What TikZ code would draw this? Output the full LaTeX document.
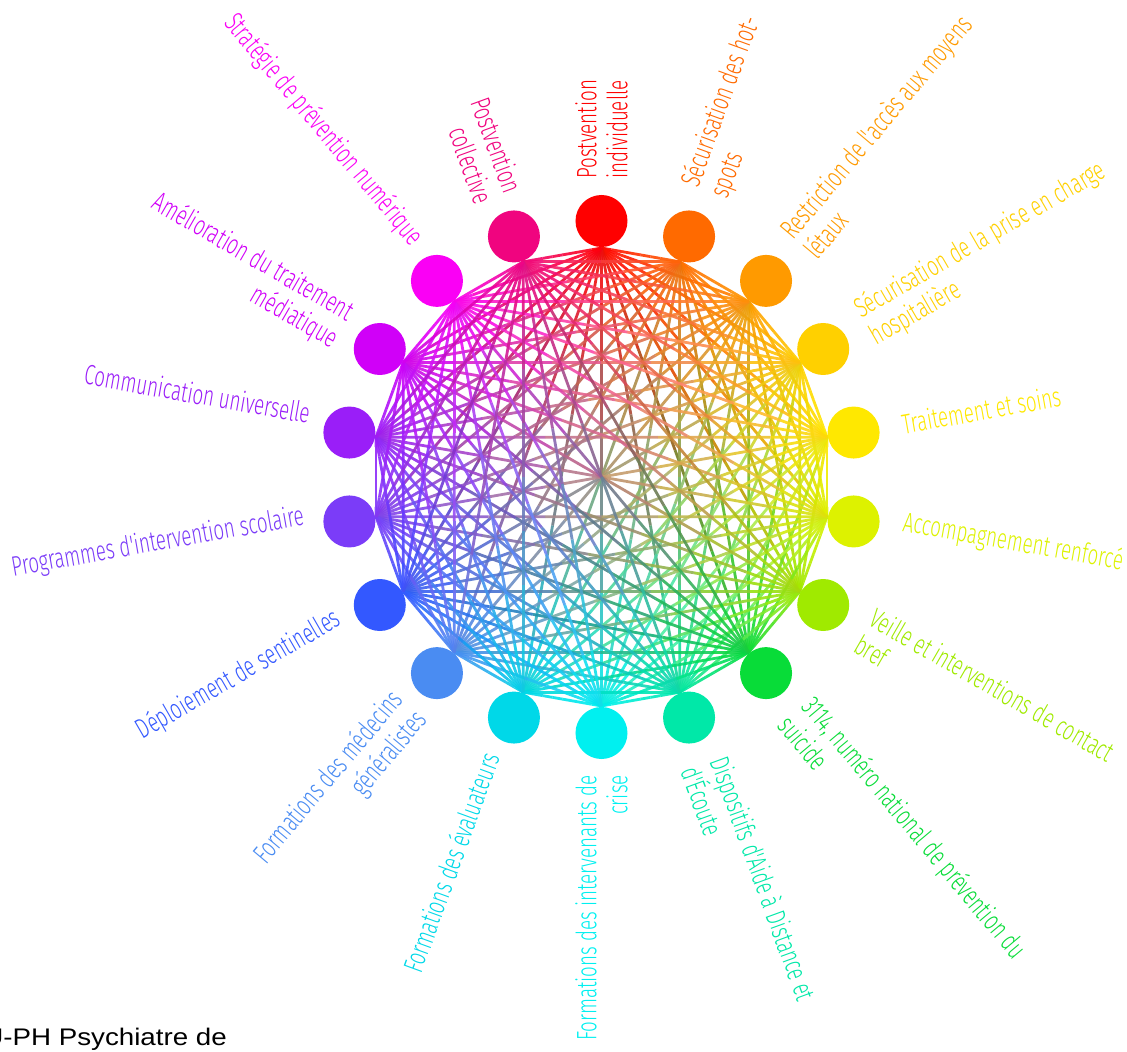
\documentclass[tikz,border=0pt]{standalone}
\usepackage{fontspec}
\setmainfont{Liberation Sans}
\IfFontExistsTF{Fira Sans Light}
	{\newfontfamily\labelfont[FakeStretch=0.67]{Fira Sans Light}}
	{\newfontfamily\labelfont[FakeStretch=0.67]{Fira Sans}}
\newfontfamily\authorfont[FakeStretch=1.155]{Liberation Sans}
\usetikzlibrary{calc}
\definecolor{c1}{HTML}{FF0000}
\definecolor{c2}{HTML}{FF6A00}
\definecolor{c3}{HTML}{FF9A00}
\definecolor{c4}{HTML}{FFD000}
\definecolor{c5}{HTML}{FFE800}
\definecolor{c6}{HTML}{DDF200}
\definecolor{c7}{HTML}{A0EA00}
\definecolor{c8}{HTML}{08DC38}
\definecolor{c9}{HTML}{00E8A8}
\definecolor{c10}{HTML}{00F0F0}
\definecolor{c11}{HTML}{00D8E8}
\definecolor{c12}{HTML}{4A8CF2}
\definecolor{c13}{HTML}{3358FF}
\definecolor{c14}{HTML}{7B3CF8}
\definecolor{c15}{HTML}{9A1EF8}
\definecolor{c16}{HTML}{D000F8}
\definecolor{c17}{HTML}{FA00F5}
\definecolor{c18}{HTML}{F0047F}
\tikzset{bubble/.style={circle, fill=#1, minimum size=52pt, inner sep=0pt},
	outlabel/.style={text=#1, font=\labelfont\fontsize{28}{31}\selectfont, inner sep=0pt, anchor=west, align=left},
	inlabel/.style={text=#1, font=\labelfont\fontsize{28}{31}\selectfont, inner sep=0pt, anchor=east, align=right},
	edgeline/.style={line width=2.8pt, opacity=0.9}
}

\begin{document}
\begin{tikzpicture}
				\useasboundingbox (-601.5pt,-575pt) rectangle (525.5pt,477pt);
				% end points of the lines
				\foreach \i in {1,...,18}{
					\pgfmathsetmacro\ang{110-20*\i}
					\coordinate (p\i) at (\ang:229pt);
				}
				
				% draw lines
				\foreach \i in {1,...,17}{
					\pgfmathtruncatemacro\s{\i+1}
					\foreach \j in {\s,...,18}{
						\foreach \k in {0,...,7}{
							\pgfmathsetmacro\ta{\k/8}
							\pgfmathsetmacro\tb{(\k+1)/8}
							\pgfmathtruncatemacro\pct{100-(2*\k+1)*100/16}
							\draw[edgeline, color=c\i!\pct!c\j] ($(p\i)!\ta!(p\j)$) -- ($(p\i)!\tb!(p\j)$);
						}
					}
				}
				
				\node[bubble=c1] (n1) at (90:256pt) {};
				\node[bubble=c2] (n2) at (70:256pt) {};
				\node[bubble=c3] (n3) at (50:256pt) {};
				\node[bubble=c4] (n4) at (30:256pt) {};
				\node[bubble=c5] (n5) at (10:256pt) {};
				\node[bubble=c6] (n6) at (-10:256pt) {};
				\node[bubble=c7] (n7) at (-30:256pt) {};
				\node[bubble=c8] (n8) at (-50:256pt) {};
				\node[bubble=c9] (n9) at (-70:256pt) {};
				\node[bubble=c10] (n10) at (-90:256pt) {};
				\node[bubble=c11] (n11) at (-110:256pt) {};
				\node[bubble=c12] (n12) at (-130:256pt) {};
				\node[bubble=c13] (n13) at (-150:256pt) {};
				\node[bubble=c14] (n14) at (-170:256pt) {};
				\node[bubble=c15] (n15) at (170:256pt) {};
				\node[bubble=c16] (n16) at (150:256pt) {};
				\node[bubble=c17] (n17) at (130:256pt) {};
				\node[bubble=c18] (n18) at (110:256pt) {};
				
				% labels
				\node[outlabel=c1, rotate=90] (t1) at (90:298pt) {Postvention\\individuelle};
				\node[outlabel=c2, rotate=70] (t2) at (70:304pt) {Sécurisation des hot-\\spots};
				\node[outlabel=c3, rotate=50] (t3) at (50:304pt) {Restriction de l'accès aux moyens\\létaux};
				\node[outlabel=c4, rotate=30] (t4) at (30:304pt) {Sécurisation de la prise en charge\\hospitalière};
				\node[outlabel=c5, rotate=10] (t5) at (10:305pt) {Traitement et soins};
				\node[outlabel=c6, rotate=-10] (t6) at ($(-10:305pt)+(80:7pt)$) {Accompagnement renforcé};
				\node[outlabel=c7, rotate=-30] (t7) at (-30:304pt) {Veille et interventions de contact\\bref};
				\node[outlabel=c8, rotate=-50] (t8) at (-50:304pt) {3114, numéro national de prévention du\\suicide};
				\node[outlabel=c9, rotate=-70] (t9) at (-70:304pt) {Dispositifs d'Aide à Distance et\\d'Écoute};
				\node[inlabel=c10, rotate=90] (t10) at (-90:298pt) {Formations des intervenants de\\crise};
				\node[inlabel=c11, rotate=70] (t11) at ($(-110:298pt)+(160:10pt)$) {Formations des évaluateurs};
				\node[inlabel=c12, rotate=50] (t12) at (-130:298pt) {Formations des médecins\\généralistes};
				\node[inlabel=c13, rotate=30] (t13) at ($(-150:298pt)+(120:10pt)$) {Déploiement de sentinelles};
				\node[inlabel=c14, rotate=10] (t14) at ($(-170:300pt)+(100:12pt)$) {Programmes d'intervention scolaire};
				\node[inlabel=c15, rotate=-10] (t15) at ($(170:298pt)+(80:12pt)$) {Communication universelle};
				\node[inlabel=c16, rotate=-30] (t16) at (150:298pt) {Amélioration du traitement\\médiatique};
				\node[inlabel=c17, rotate=-50] (t17) at ($(130:298pt)+(40:10pt)$) {Stratégie de prévention numérique};
				\node[inlabel=c18, rotate=-70] (t18) at (110:298pt) {Postvention\\collective};
				
				\node[anchor=base east, font=\authorfont\fontsize{24}{28}\selectfont, inner sep=0pt] (author) at (-374.5pt,-568pt) {PU-PH Psychiatre de};
\end{tikzpicture}
\end{document}
